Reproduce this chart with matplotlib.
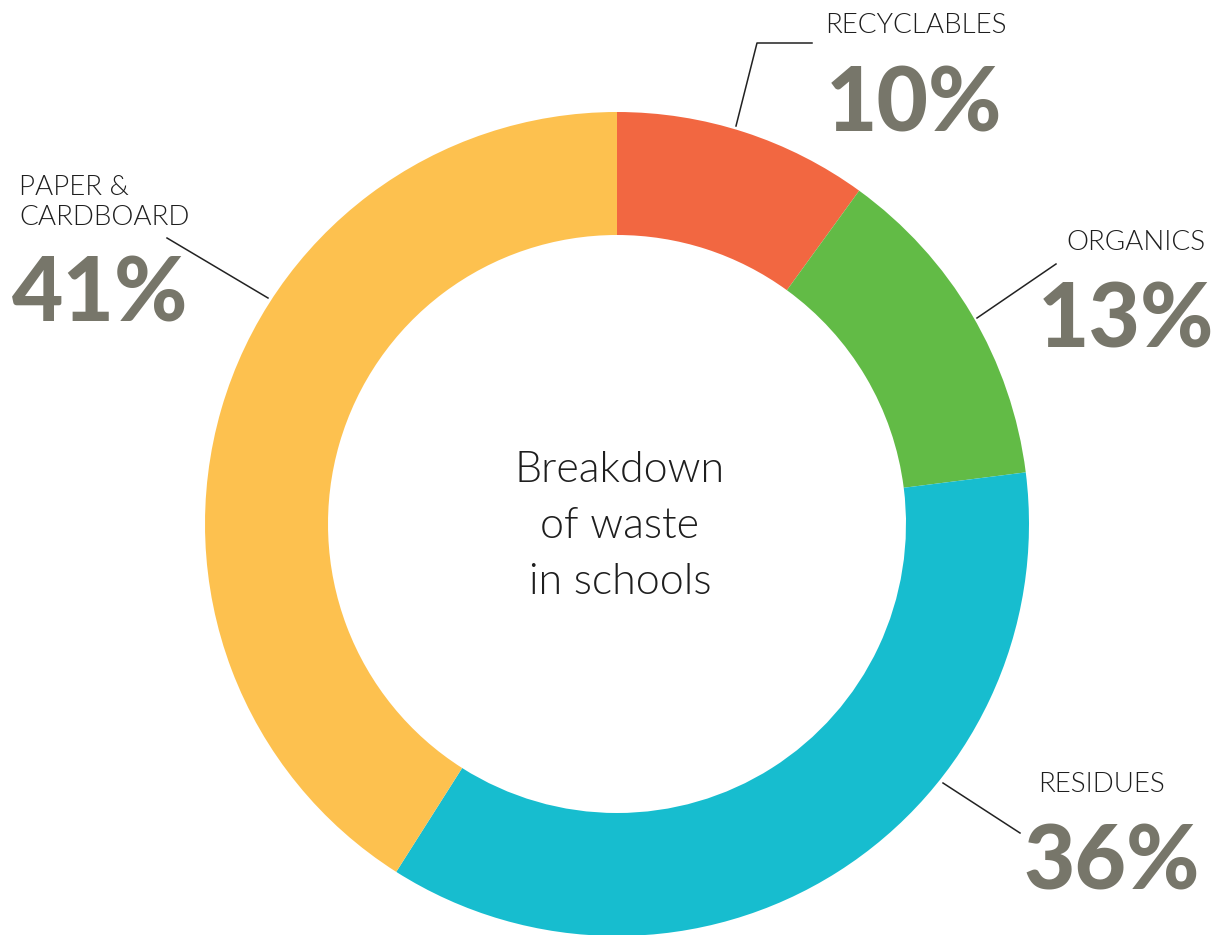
import matplotlib.pyplot as plt
from matplotlib import font_manager
from matplotlib.font_manager import FontProperties

W, H = 1221, 935

categories = ['RECYCLABLES', 'ORGANICS', 'RESIDUES', 'PAPER &\nCARDBOARD']
values = [10, 13, 36, 41]
colors = ['#f26741', '#62bb46', '#17bdcf', '#fdc14f']
pct_labels = ['10%', '13%', '36%', '41%']


def pick_font(families, weights):
    fl = font_manager.fontManager.ttflist
    for fam in families:
        for w in weights:
            for f in fl:
                if f.name == fam and f.weight == w and f.style == 'normal' \
                        and f.stretch == 'normal':
                    return FontProperties(fname=f.fname)
    return FontProperties(family='DejaVu Sans', weight='bold')


light_fp = pick_font(['Lato', 'Roboto', 'Open Sans', 'Noto Sans', 'Inter'], [300, 400])
big_fp = pick_font(['Lato', 'Roboto', 'Open Sans', 'Inter'], [900, 800, 700])


def Y(py):
    return H - py


fig = plt.figure(figsize=(W / 100, H / 100), dpi=100)
ax = fig.add_axes([0, 0, 1, 1])

ax.pie(values, colors=colors, startangle=90, counterclock=False,
       center=(617, Y(524)), radius=412, frame=True,
       wedgeprops=dict(width=412 - 289, linewidth=0))
ax.set_xlim(0, W)
ax.set_ylim(0, H)
ax.set_aspect('equal')
ax.axis('off')

# leader lines (pixel coords)
leaders = [
    [(736, 126), (757, 43), (812, 43)],
    [(977, 318), (1056, 264)],
    [(943, 783), (1020, 833)],
    [(268, 298), (167, 238)],
]
for pts in leaders:
    ax.plot([p[0] for p in pts], [Y(p[1]) for p in pts], color='#222222', lw=1.1)

# label positions: (x, name baseline, pct x, pct baseline, pct align)
label_pos = [
    (825, 33, 826, 131, 'left'),
    (1066, 250, 1214, 348, 'right'),
    (1038, 792, 1200, 890, 'right'),
    (19, 225, 12, 322, 'left'),
]
txt_color = '#1e1e1e'
pct_color = '#77766a'
for name, pct, (x, yb, xp, yp, al) in zip(categories, pct_labels, label_pos):
    ax.text(x, Y(yb), name, fontproperties=light_fp, fontsize=20,
            color=txt_color, ha='left', va='baseline', linespacing=1.25)
    ax.text(xp, Y(yp), pct, fontproperties=big_fp, fontsize=64,
            color=pct_color, ha=al, va='baseline')

center_lines = ['Breakdown', 'of waste', 'in schools']
for line, yb in zip(center_lines, [482, 538, 594]):
    ax.text(620, Y(yb), line, fontproperties=light_fp, fontsize=31,
            color=txt_color, ha='center', va='baseline')

fig.savefig('out.png', dpi=100, facecolor='white')
